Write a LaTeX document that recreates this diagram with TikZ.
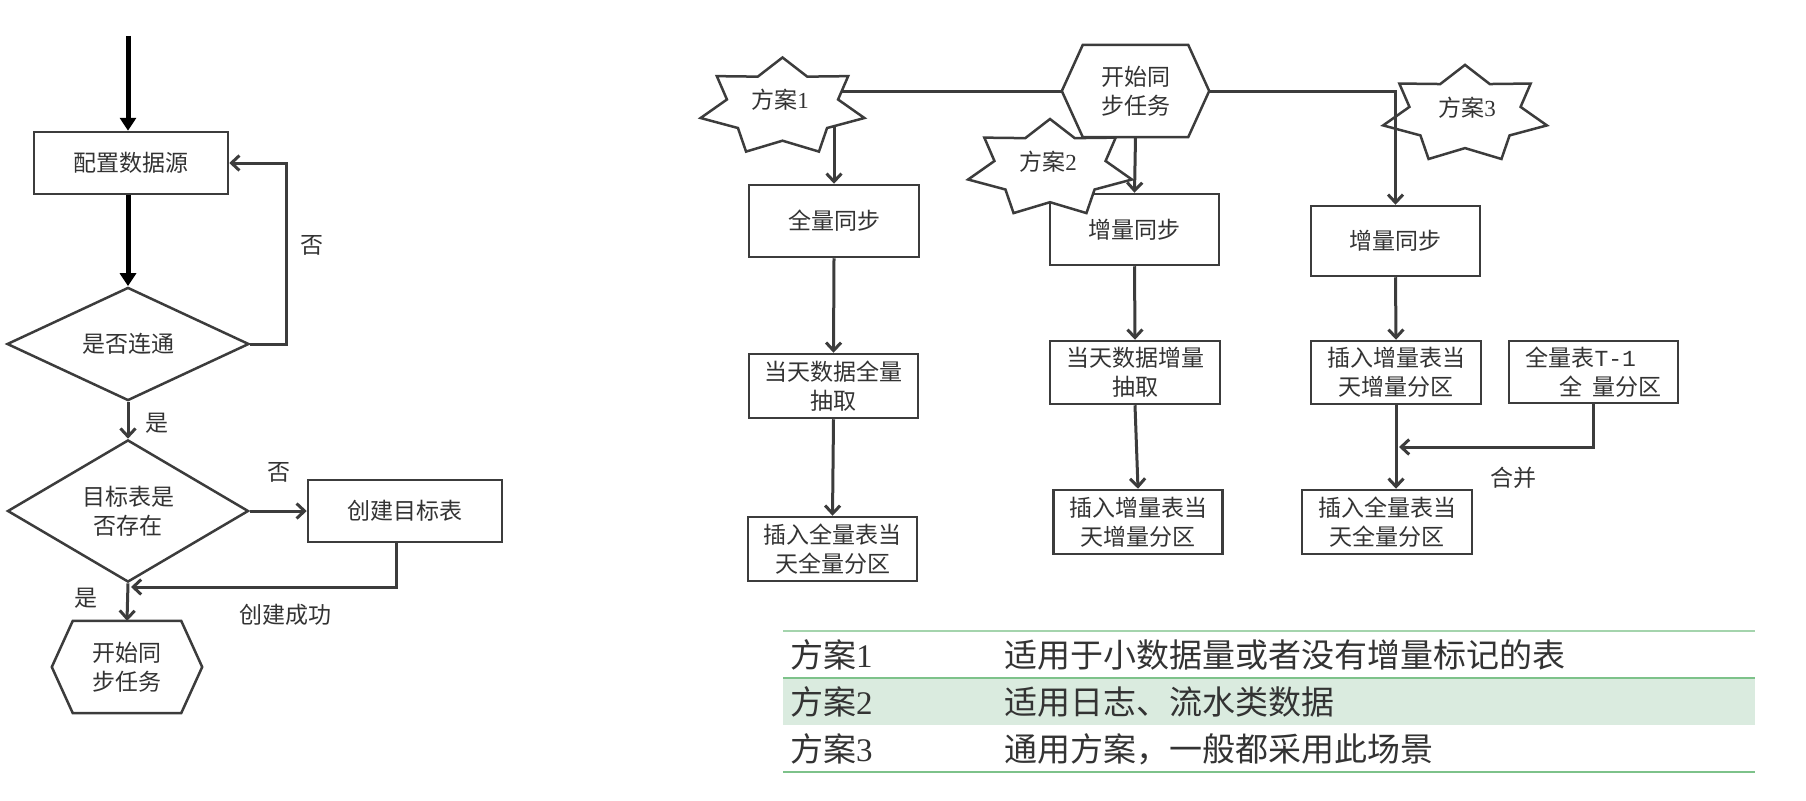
\documentclass[tikz,border=0pt]{standalone}
\usepackage{fontspec}
\setmainfont{Liberation Serif}
\setmonofont{Liberation Mono}
\newfontfamily\cjk{Noto Sans CJK SC}
\usetikzlibrary{arrows.meta,shapes.geometric,calc}
\definecolor{linec}{HTML}{3C3C3C}
\definecolor{textc}{HTML}{333333}
\definecolor{tgreen}{HTML}{7DC28A}
\definecolor{tband}{HTML}{DAEBDF}
\tikzset{
  txt/.style={font={\cjk\fontsize{23}{29}\selectfont}, text=textc, inner sep=0pt, align=center},
  box/.style={txt, draw=linec, line width=2.5pt, fill=white, rectangle},
  dia/.style={txt, draw=linec, line width=2.5pt, fill=white, diamond},
  conn/.style={draw=linec, line width=3pt, line join=miter, -{Straight Barb[length=8pt,width=15pt]}},
  bold arrow/.style={draw=black, line width=5pt, -{Triangle[length=13pt,width=16pt]}},
  shapeline/.style={draw=linec, line width=2.5pt, fill=white, line join=miter},
  tbl/.style={font={\cjk\fontsize{33}{33}\selectfont}, text=textc, inner sep=0pt, anchor=west},
  tline/.style={draw=tgreen, line width=2pt},
}
\newcommand{\starshape}[1]{%
  \path[shapeline] ($(#1)+(90:84pt and 49.5pt)$)
    \foreach \i in {1,...,7}{ -- ($(#1)+({90+(\i-0.5)*360/7}:57pt and 33.7pt)$) -- ($(#1)+({90+\i*360/7}:84pt and 49.5pt)$) } -- cycle;}
\newcommand{\hexshape}[1]{%
  \path[shapeline,fill=none] (#1.west) -- ([xshift=21pt]#1.north west) -- ([xshift=-21pt]#1.north east) -- (#1.east) -- ([xshift=-21pt]#1.south east) -- ([xshift=21pt]#1.south west) -- cycle;}
\begin{document}
\begin{tikzpicture}[x=1pt,y=-1pt]
\useasboundingbox (0,0) rectangle (1806,800);
% ---------- left flow ----------
\coordinate (top) at (128,36);
\node[box, minimum width=194pt, minimum height=62pt] (cfg) at (131,163) {配置数据源};
\node[dia, minimum width=242pt, minimum height=112pt] (d1) at (128,344) {是否连通};
\node[dia, minimum width=241pt, minimum height=112pt] (d2) at (128,511) {目标表是\\否存在};
\node[box, minimum width=194pt, minimum height=62pt] (mk) at (405,511) {创建目标表};
\node[txt, minimum width=150pt, minimum height=92pt] (hexL) at (127,667) {开始同\\步任务};
\hexshape{hexL}
\draw[bold arrow] (top) -- (top |- cfg.north);
\draw[bold arrow] (cfg.south -| top) -- (d1.north);
\draw[conn] (d1.east) -- ++(36,0) |- (cfg.east);
\draw[conn] (d1.south) -- (d2.north);
\draw[conn] (d2.east) -- (mk.west);
\coordinate (j1) at (131,587);
\draw[conn] ([xshift=-9pt]mk.south) |- (j1);
\draw[conn] (d2.south) -- (hexL.north);
\node[txt] (l1) at (312,245) {否};
\node[txt] (l2) at (157,423) {是};
\node[txt] (l3) at (279,472) {否};
\node[txt] (l4) at (285,615) {创建成功};
\node[txt] (l5) at (86,598) {是};
% ---------- right flow ----------
\coordinate (s3c) at (1465,114.4);
\starshape{s3c}
\node[txt] (s3) at (1467,108) {方案{\rmfamily 3}};
\node[txt, minimum width=147pt, minimum height=92pt] (hexR) at (1135.5,91) {开始同\\步任务};
\hexshape{hexR}
\node[box, minimum width=170pt, minimum height=72pt] (fs) at (834,221) {全量同步};
\node[box, minimum width=169pt, minimum height=71pt] (is2) at (1134.5,229.5) {增量同步};
\node[box, minimum width=169pt, minimum height=70pt] (is3) at (1395.5,241) {增量同步};
\node[box, minimum width=169pt, minimum height=64pt] (fx) at (833.5,386) {当天数据全量\\抽取};
\node[box, minimum width=170pt, minimum height=63pt] (ix) at (1135,372.5) {当天数据增量\\抽取};
\node[box, minimum width=170pt, minimum height=63pt] (ii3) at (1396,372.5) {插入增量表当\\天增量分区};
\node[box, minimum width=169pt, minimum height=62pt, align=left] (t1) at (1593.5,372) {全量表{\ttfamily T-1}\\\hspace*{34pt}全\hspace{10pt}量分区};
\node[box, minimum width=169pt, minimum height=64pt] (fi) at (832.5,549) {插入全量表当\\天全量分区};
\node[box, minimum width=169pt, minimum height=64pt] (ii) at (1138,522) {插入增量表当\\天增量分区};
\node[box, minimum width=170pt, minimum height=64pt] (fa3) at (1387,522) {插入全量表当\\天全量分区};
\draw[conn] (hexR.west) -| (fs.north);
\draw[conn] (hexR.south) -- (is2.north);
\draw[conn] (hexR.east) -| (is3.north);
\draw[conn] (fs.south) -- (fx.north);
\draw[conn] (fx.south) -- (fi.north);
\draw[conn] (is2.south) -- (ix.north);
\draw[conn] (ix.south) -- (ii.north);
\draw[conn] (is3.south) -- (ii3.north);
\draw[conn] (ii3.south) -- (ii3.south |- fa3.north);
\coordinate (j2) at (1399,447);
\draw[conn] (t1.south) |- (j2);
\node[txt] (l6) at (1513,478) {合并};
\coordinate (s1c) at (782.5,107);
\starshape{s1c}
\node[txt] (s1) at (780,100) {方案{\rmfamily 1}};
\coordinate (s2c) at (1050,168.5);
\starshape{s2c}
\node[txt] (s2) at (1048,162) {方案{\rmfamily 2}};
% ---------- table ----------
\fill[tband] (783,678) rectangle (1755,725);
\draw[tline, draw=tgreen!70] (783,631) -- (1755,631);
\draw[tline] (783,678) -- (1755,678);
\draw[tline] (783,772) -- (1755,772);
\node[tbl] (r1a) at (790,655) {方案{\rmfamily 1}};
\node[tbl] (r1b) at (1004,655) {适用于小数据量或者没有增量标记的表};
\node[tbl] (r2a) at (790,702) {方案{\rmfamily 2}};
\node[tbl] (r2b) at (1004,702) {适用日志、流水类数据};
\node[tbl] (r3a) at (790,749) {方案{\rmfamily 3}};
\node[tbl] (r3b) at (1004,749) {通用方案，一般都采用此场景};
\end{tikzpicture}
\end{document}
